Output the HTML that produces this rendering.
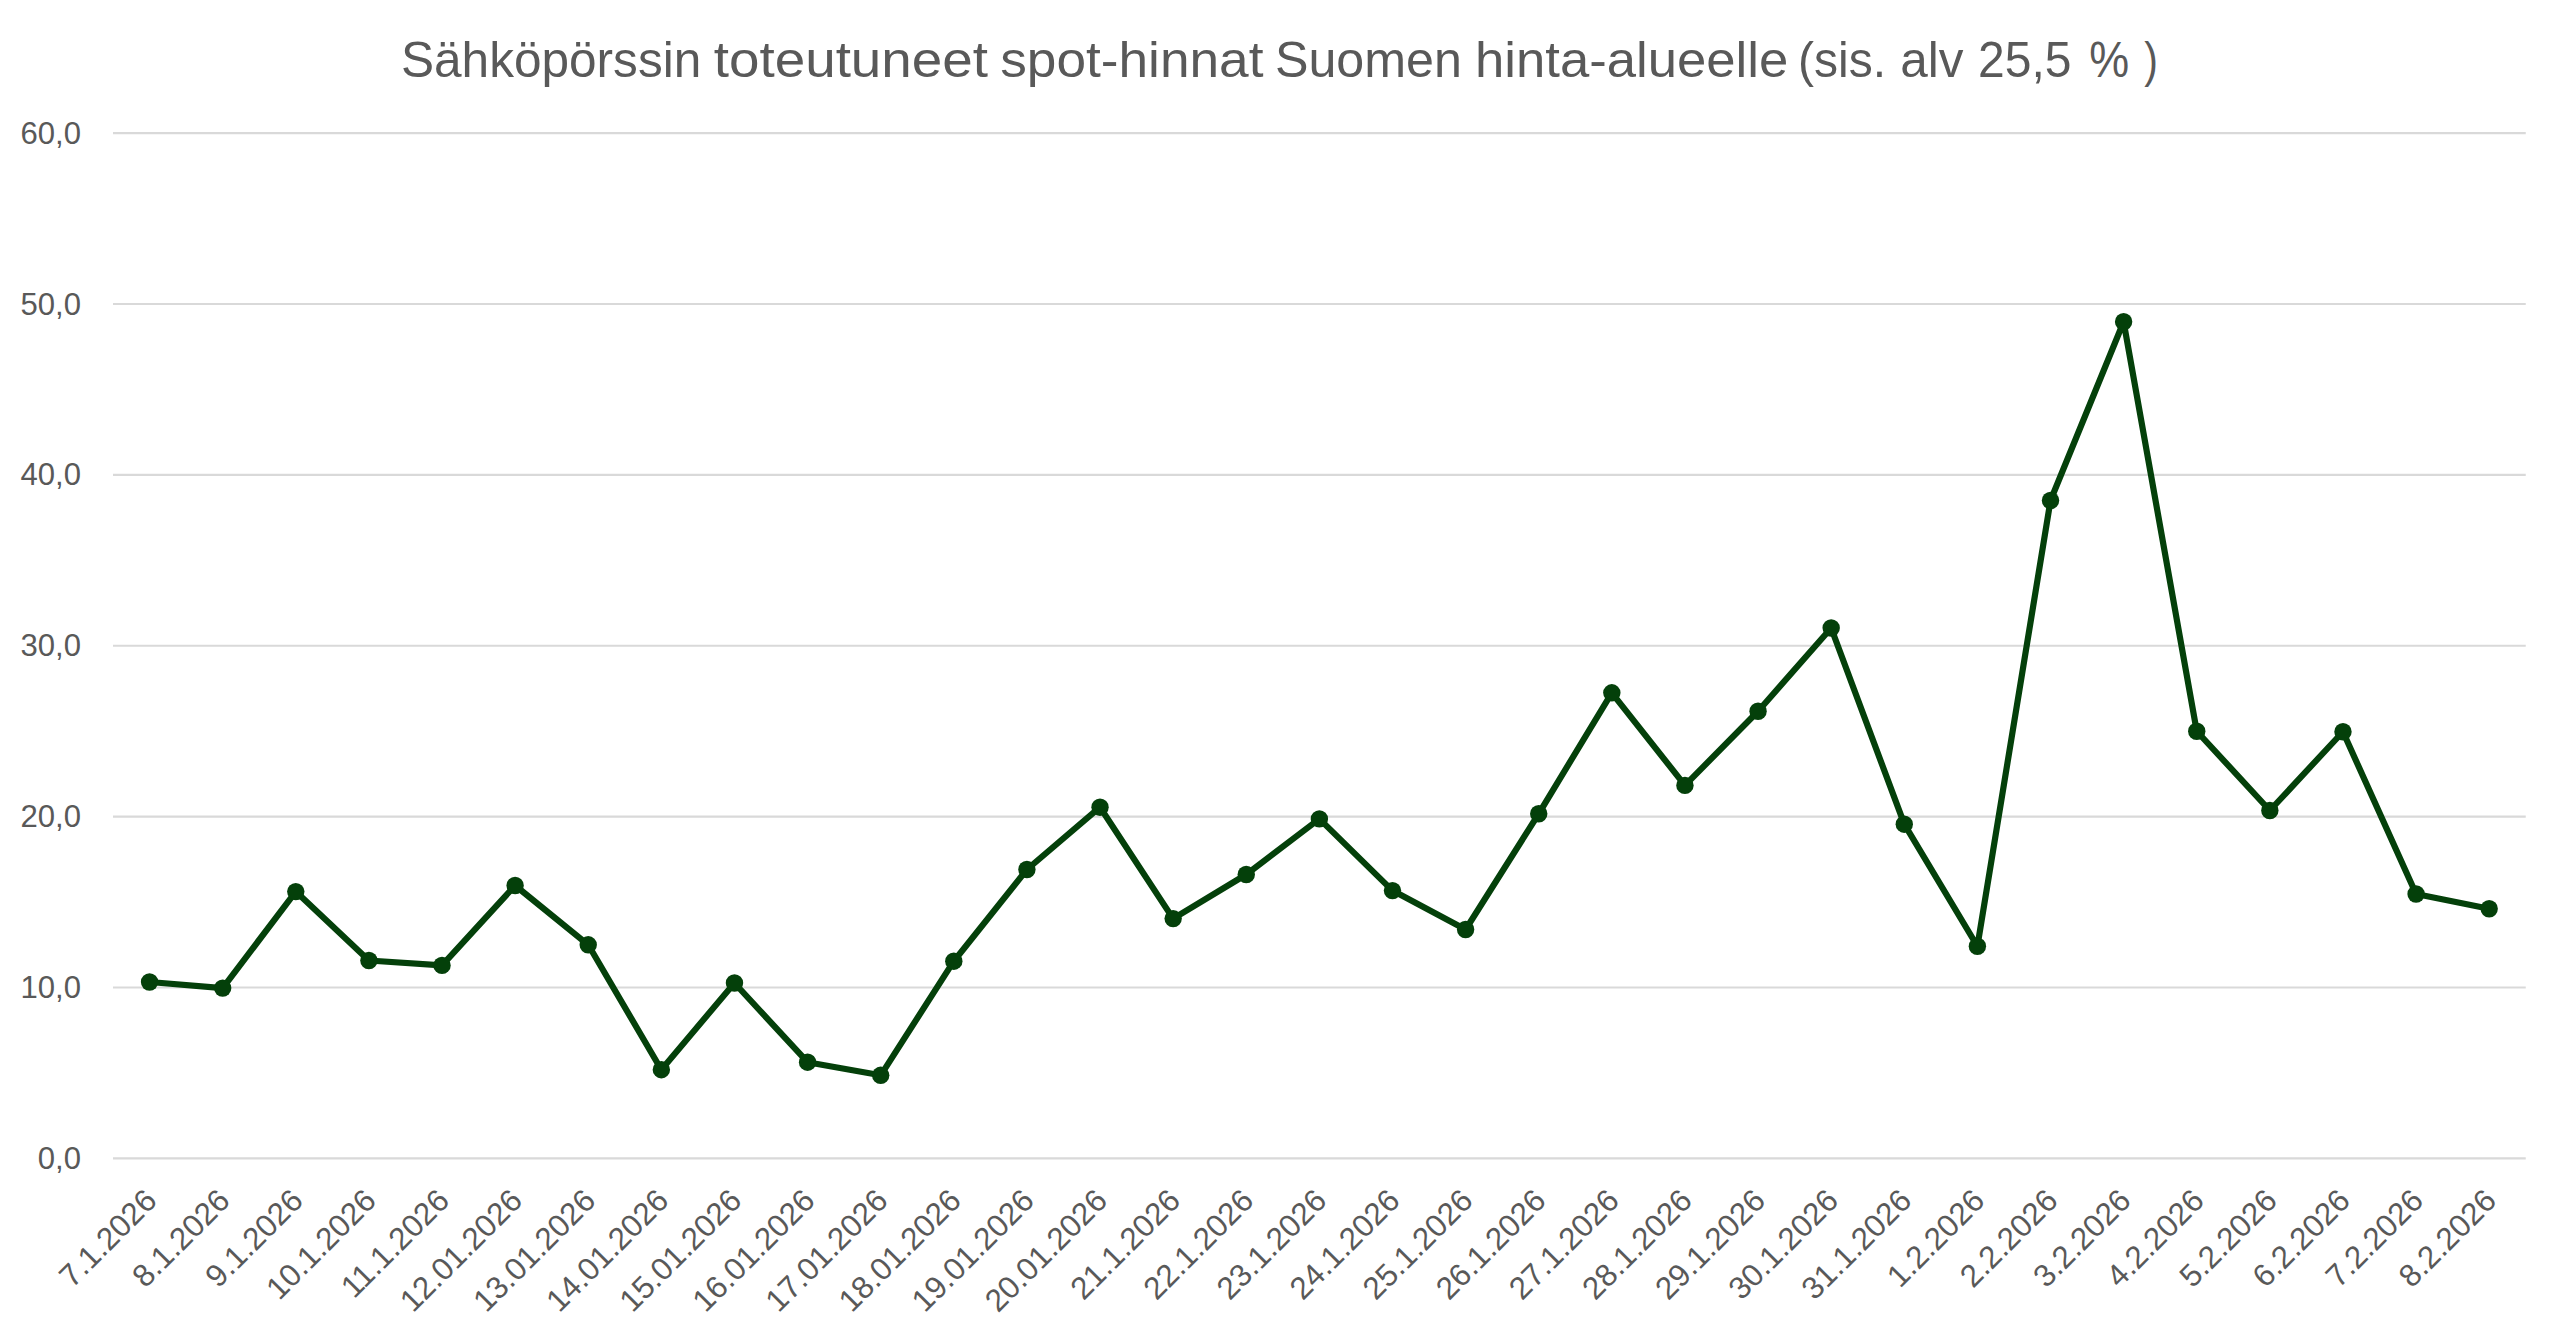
<!DOCTYPE html>
<html lang="fi">
<head>
<meta charset="utf-8">
<title>Sähköpörssin toteutuneet spot-hinnat</title>
<style>
html,body{margin:0;padding:0;background:#fff;}
body{width:2560px;height:1340px;overflow:hidden;}
svg{display:block;}
text{font-family:"Liberation Sans",sans-serif;fill:#595959;}
.yl{font-size:32.0px;text-anchor:end;}
.xl{font-size:31.4px;text-anchor:end;}
.title{font-size:50.0px;}
</style>
</head>
<body>
<svg width="2560" height="1340" viewBox="0 0 2560 1340">
<rect x="0" y="0" width="2560" height="1340" fill="#ffffff"/>
<text class="title" y="77.1"><tspan x="401.02" textLength="300.23" lengthAdjust="spacingAndGlyphs">Sähköpörssin</tspan> <tspan x="713.79" textLength="274.20" lengthAdjust="spacingAndGlyphs">toteutuneet</tspan> <tspan x="1000.20" textLength="263.29" lengthAdjust="spacingAndGlyphs">spot-hinnat</tspan> <tspan x="1274.93" textLength="187.03" lengthAdjust="spacingAndGlyphs">Suomen</tspan> <tspan x="1475.02" textLength="313.18" lengthAdjust="spacingAndGlyphs">hinta-alueelle</tspan> <tspan x="1798.01" textLength="88.17" lengthAdjust="spacingAndGlyphs">(sis.</tspan> <tspan x="1900.30" textLength="63.24" lengthAdjust="spacingAndGlyphs">alv</tspan> <tspan x="1978.01" textLength="93.46" lengthAdjust="spacingAndGlyphs">25,5</tspan> <tspan x="2089.35" textLength="39.89" lengthAdjust="spacingAndGlyphs">%</tspan> <tspan x="2144.34" textLength="13.66" lengthAdjust="spacingAndGlyphs">)</tspan></text>
<g stroke="#D9D9D9" stroke-width="2.2" fill="none">
<line x1="113.0" y1="133.10" x2="2525.75" y2="133.10"/>
<line x1="113.0" y1="303.98" x2="2525.75" y2="303.98"/>
<line x1="113.0" y1="474.85" x2="2525.75" y2="474.85"/>
<line x1="113.0" y1="645.73" x2="2525.75" y2="645.73"/>
<line x1="113.0" y1="816.60" x2="2525.75" y2="816.60"/>
<line x1="113.0" y1="987.48" x2="2525.75" y2="987.48"/>
<line x1="113.0" y1="1158.35" x2="2525.75" y2="1158.35"/>
</g>
<g>
<text class="yl" x="81.0" y="143.70" textLength="60.53" lengthAdjust="spacingAndGlyphs">60,0</text>
<text class="yl" x="81.0" y="314.58" textLength="60.53" lengthAdjust="spacingAndGlyphs">50,0</text>
<text class="yl" x="81.0" y="485.45" textLength="60.53" lengthAdjust="spacingAndGlyphs">40,0</text>
<text class="yl" x="81.0" y="656.33" textLength="60.53" lengthAdjust="spacingAndGlyphs">30,0</text>
<text class="yl" x="81.0" y="827.20" textLength="60.53" lengthAdjust="spacingAndGlyphs">20,0</text>
<text class="yl" x="81.0" y="998.08" textLength="60.53" lengthAdjust="spacingAndGlyphs">10,0</text>
<text class="yl" x="81.0" y="1168.95" textLength="43.23" lengthAdjust="spacingAndGlyphs">0,0</text>
</g>
<g>
<text class="xl" transform="translate(158.56,1202.5) rotate(-45)">7.1.2026</text>
<text class="xl" transform="translate(231.67,1202.5) rotate(-45)">8.1.2026</text>
<text class="xl" transform="translate(304.78,1202.5) rotate(-45)">9.1.2026</text>
<text class="xl" transform="translate(377.90,1202.5) rotate(-45)">10.1.2026</text>
<text class="xl" transform="translate(451.01,1202.5) rotate(-45)">11.1.2026</text>
<text class="xl" transform="translate(524.12,1202.5) rotate(-45)">12.01.2026</text>
<text class="xl" transform="translate(597.24,1202.5) rotate(-45)">13.01.2026</text>
<text class="xl" transform="translate(670.35,1202.5) rotate(-45)">14.01.2026</text>
<text class="xl" transform="translate(743.47,1202.5) rotate(-45)">15.01.2026</text>
<text class="xl" transform="translate(816.58,1202.5) rotate(-45)">16.01.2026</text>
<text class="xl" transform="translate(889.69,1202.5) rotate(-45)">17.01.2026</text>
<text class="xl" transform="translate(962.81,1202.5) rotate(-45)">18.01.2026</text>
<text class="xl" transform="translate(1035.92,1202.5) rotate(-45)">19.01.2026</text>
<text class="xl" transform="translate(1109.03,1202.5) rotate(-45)">20.01.2026</text>
<text class="xl" transform="translate(1182.15,1202.5) rotate(-45)">21.1.2026</text>
<text class="xl" transform="translate(1255.26,1202.5) rotate(-45)">22.1.2026</text>
<text class="xl" transform="translate(1328.38,1202.5) rotate(-45)">23.1.2026</text>
<text class="xl" transform="translate(1401.49,1202.5) rotate(-45)">24.1.2026</text>
<text class="xl" transform="translate(1474.60,1202.5) rotate(-45)">25.1.2026</text>
<text class="xl" transform="translate(1547.72,1202.5) rotate(-45)">26.1.2026</text>
<text class="xl" transform="translate(1620.83,1202.5) rotate(-45)">27.1.2026</text>
<text class="xl" transform="translate(1693.94,1202.5) rotate(-45)">28.1.2026</text>
<text class="xl" transform="translate(1767.06,1202.5) rotate(-45)">29.1.2026</text>
<text class="xl" transform="translate(1840.17,1202.5) rotate(-45)">30.1.2026</text>
<text class="xl" transform="translate(1913.28,1202.5) rotate(-45)">31.1.2026</text>
<text class="xl" transform="translate(1986.40,1202.5) rotate(-45)">1.2.2026</text>
<text class="xl" transform="translate(2059.51,1202.5) rotate(-45)">2.2.2026</text>
<text class="xl" transform="translate(2132.62,1202.5) rotate(-45)">3.2.2026</text>
<text class="xl" transform="translate(2205.74,1202.5) rotate(-45)">4.2.2026</text>
<text class="xl" transform="translate(2278.85,1202.5) rotate(-45)">5.2.2026</text>
<text class="xl" transform="translate(2351.97,1202.5) rotate(-45)">6.2.2026</text>
<text class="xl" transform="translate(2425.08,1202.5) rotate(-45)">7.2.2026</text>
<text class="xl" transform="translate(2498.19,1202.5) rotate(-45)">8.2.2026</text>
</g>
<polyline points="149.56,982.00 222.67,988.10 295.78,891.60 368.90,960.50 442.01,965.40 515.12,885.50 588.24,944.80 661.35,1069.70 734.47,983.00 807.58,1062.20 880.69,1075.30 953.81,961.20 1026.92,869.50 1100.03,807.20 1173.15,918.60 1246.26,874.50 1319.38,818.90 1392.49,890.60 1465.60,929.50 1538.72,813.75 1611.83,692.80 1684.94,785.40 1758.06,711.25 1831.17,628.00 1904.28,824.20 1977.40,946.25 2050.51,500.50 2123.62,321.75 2196.74,731.25 2269.85,810.50 2342.97,731.75 2416.08,894.00 2489.19,908.75" fill="none" stroke="#04400A" stroke-width="6.2" stroke-linejoin="round" stroke-linecap="round"/>
<g fill="#04400A">
<circle cx="149.56" cy="982.00" r="8.7"/>
<circle cx="222.67" cy="988.10" r="8.7"/>
<circle cx="295.78" cy="891.60" r="8.7"/>
<circle cx="368.90" cy="960.50" r="8.7"/>
<circle cx="442.01" cy="965.40" r="8.7"/>
<circle cx="515.12" cy="885.50" r="8.7"/>
<circle cx="588.24" cy="944.80" r="8.7"/>
<circle cx="661.35" cy="1069.70" r="8.7"/>
<circle cx="734.47" cy="983.00" r="8.7"/>
<circle cx="807.58" cy="1062.20" r="8.7"/>
<circle cx="880.69" cy="1075.30" r="8.7"/>
<circle cx="953.81" cy="961.20" r="8.7"/>
<circle cx="1026.92" cy="869.50" r="8.7"/>
<circle cx="1100.03" cy="807.20" r="8.7"/>
<circle cx="1173.15" cy="918.60" r="8.7"/>
<circle cx="1246.26" cy="874.50" r="8.7"/>
<circle cx="1319.38" cy="818.90" r="8.7"/>
<circle cx="1392.49" cy="890.60" r="8.7"/>
<circle cx="1465.60" cy="929.50" r="8.7"/>
<circle cx="1538.72" cy="813.75" r="8.7"/>
<circle cx="1611.83" cy="692.80" r="8.7"/>
<circle cx="1684.94" cy="785.40" r="8.7"/>
<circle cx="1758.06" cy="711.25" r="8.7"/>
<circle cx="1831.17" cy="628.00" r="8.7"/>
<circle cx="1904.28" cy="824.20" r="8.7"/>
<circle cx="1977.40" cy="946.25" r="8.7"/>
<circle cx="2050.51" cy="500.50" r="8.7"/>
<circle cx="2123.62" cy="321.75" r="8.7"/>
<circle cx="2196.74" cy="731.25" r="8.7"/>
<circle cx="2269.85" cy="810.50" r="8.7"/>
<circle cx="2342.97" cy="731.75" r="8.7"/>
<circle cx="2416.08" cy="894.00" r="8.7"/>
<circle cx="2489.19" cy="908.75" r="8.7"/>
</g>
</svg>
</body>
</html>
